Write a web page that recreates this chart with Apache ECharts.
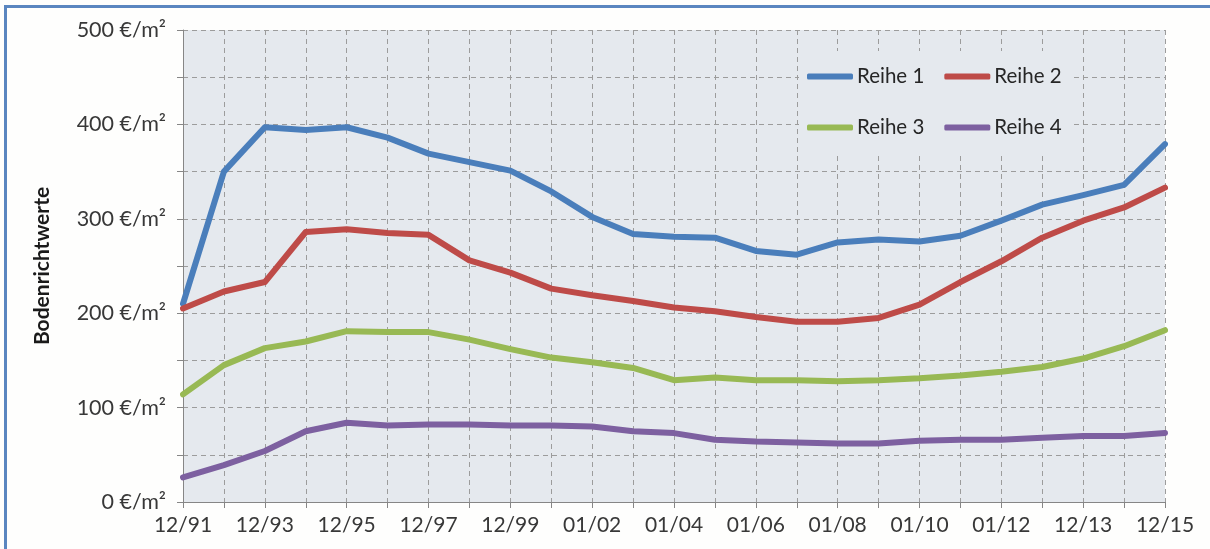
<!DOCTYPE html>
<html>
<head>
<meta charset="utf-8">
<title>Bodenrichtwerte</title>
<script src="https://cdn.jsdelivr.net/npm/echarts@6/dist/echarts.min.js"></script>
<style>
  html, body { margin: 0; padding: 0; background: #fefefd; }
  #chart { width: 1210px; height: 549px; }
</style>
</head>
<body>
<div id="chart"></div>
<script>
// Stichtage (x-axis categories); only every second one is labelled
const categories = [
  '12/91', '12/92', '12/93', '12/94', '12/95', '12/96', '12/97', '12/98',
  '12/99', '12/00', '01/02', '01/03', '01/04', '01/05', '01/06', '01/07',
  '01/08', '01/09', '01/10', '01/11', '01/12', '12/12', '12/13', '12/14', '12/15'
];

// Bodenrichtwerte in €/m²
const reihe1 = [210, 350, 397, 394, 397, 386, 369, 360, 351, 329, 302, 284, 281,
                280, 266, 262, 275, 278, 276, 282, 298, 315, 325, 336, 379];
const reihe2 = [205, 223, 233, 286, 289, 285, 283, 256, 243, 226, 219, 213, 206,
                202, 196, 191, 191, 195, 209, 233, 255, 280, 298, 312, 333];
const reihe3 = [114, 145, 163, 170, 181, 180, 180, 172, 162, 153, 148, 142, 129,
                132, 129, 129, 128, 129, 131, 134, 138, 143, 152, 165, 182];
const reihe4 = [26, 39, 54, 75, 84, 81, 82, 82, 81, 81, 80, 75, 73,
                66, 64, 63, 62, 62, 65, 66, 66, 68, 70, 70, 73];

const seriesNames = ['Reihe 1', 'Reihe 2', 'Reihe 3', 'Reihe 4'];
const seriesData = [reihe1, reihe2, reihe3, reihe4];
const colors = ['#4a7ebb', '#be4b48', '#98b954', '#7d60a0'];

// y-axis range and tick step
const yMin = 0, yMax = 500, yStep = 50;

const FONT = 'Lato, "Open Sans", sans-serif';
const TEXT = '#383838';
const AXIS = '#868686';
const GRIDLINE = { color: '#9c9c9c', width: 1, type: [5, 4] };

const chart = echarts.init(document.getElementById('chart'), null, { renderer: 'canvas' });

const legendCommon = {
  left: 807,
  padding: 0,
  itemWidth: 46,
  itemHeight: 6,
  itemGap: 20,
  icon: 'roundRect',
  selectedMode: false,
  textStyle: { fontFamily: FONT, fontSize: 20.5, color: '#262626', lineHeight: 20, padding: [0, 0, 0, -1] }
};

chart.setOption({
  backgroundColor: '#fefefd',
  animation: false,
  color: colors,
  textStyle: { fontFamily: FONT },
  grid: {
    left: 183, right: 45, top: 30, bottom: 47,
    show: true, backgroundColor: '#e5e9ee', borderWidth: 0
  },
  legend: [
    Object.assign({ top: 66, data: seriesNames.slice(0, 2) }, legendCommon),
    Object.assign({ top: 117, data: seriesNames.slice(2, 4) }, legendCommon)
  ],
  graphic: [
    // outer frame of the chart area
    {
      type: 'rect', z: 10, silent: true,
      shape: { x: 5.5, y: 6.5, width: 1240, height: 600 },
      style: { fill: null, stroke: '#5a86c0', lineWidth: 3 }
    },
    // panel behind the legend, hiding the grid there
    {
      type: 'rect', z: 1, silent: true,
      shape: { x: 799, y: 51, width: 274, height: 102 },
      style: { fill: '#e5e9ee' }
    }
  ],
  xAxis: {
    type: 'category',
    data: categories,
    boundaryGap: false,
    axisLine: { show: true, lineStyle: { color: AXIS, width: 1 } },
    axisTick: { show: true, interval: 0, length: 6, lineStyle: { color: AXIS } },
    axisLabel: {
      interval: 1, margin: 13,
      fontFamily: FONT, fontSize: 21, color: TEXT
    },
    splitLine: { show: true, interval: 0, lineStyle: GRIDLINE }
  },
  yAxis: {
    type: 'value',
    min: yMin, max: yMax, interval: yStep,
    name: 'Bodenrichtwerte',
    nameLocation: 'middle',
    nameRotate: 90,
    nameGap: 130,
    nameTextStyle: { fontFamily: FONT, fontSize: 21, fontWeight: 'bold', color: '#1a1a1a' },
    axisLine: { show: true, lineStyle: { color: AXIS, width: 1 } },
    axisTick: { show: true, length: 6, lineStyle: { color: AXIS } },
    axisLabel: {
      margin: 17,
      fontFamily: FONT, fontSize: 21.5, color: TEXT,
      formatter: v => (v % 100 === 0 ? v + ' €/m²' : '')
    },
    splitLine: { show: true, lineStyle: GRIDLINE }
  },
  series: seriesNames.map((name, i) => ({
    name: name,
    type: 'line',
    data: seriesData[i],
    showSymbol: false,
    symbol: 'none',
    z: 3,
    lineStyle: { width: 6, color: colors[i], cap: 'round', join: 'round' },
    itemStyle: { color: colors[i] }
  }))
});
</script>
</body>
</html>
